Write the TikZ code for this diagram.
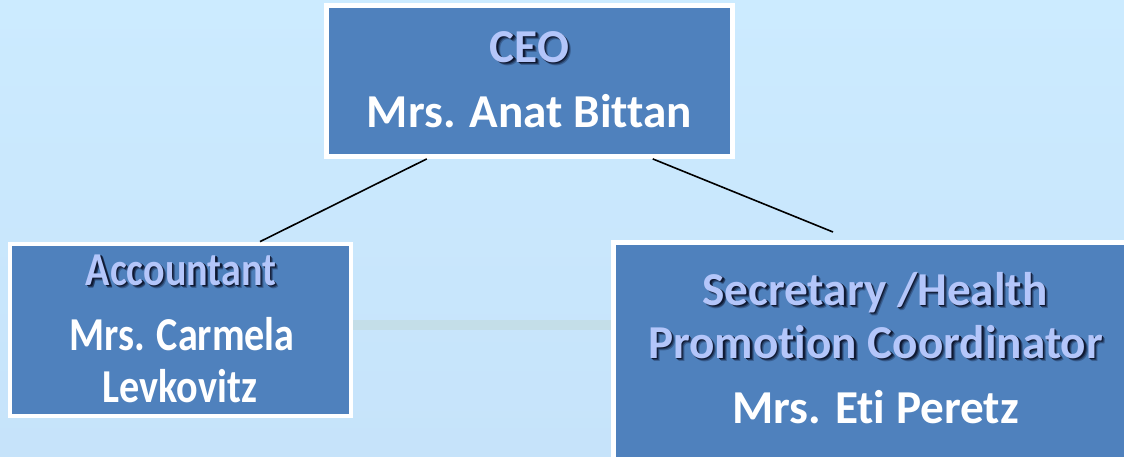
\documentclass[tikz,border=0pt]{standalone}
\usepackage{fontspec}
\setmainfont[Ligatures={NoCommon}]{Carlito}
\usetikzlibrary{calc}
\definecolor{boxblue}{RGB}{79,129,189}
\definecolor{bgtop}{RGB}{204,235,255}
\definecolor{bgbot}{RGB}{198,227,250}
\definecolor{titlec}{RGB}{180,198,250}
\definecolor{bandc}{RGB}{196,222,232}
\definecolor{shadowc}{RGB}{15,25,50}
\definecolor{shadowm}{RGB}{35,58,95}
\definecolor{shadowl}{RGB}{58,95,145}
\newcommand{\shd}[1]{\makebox[0pt][l]{\hspace{1.7pt}\raisebox{-1.7pt}{\color{shadowl}#1}}\makebox[0pt][l]{\hspace{1.3pt}\raisebox{-1.3pt}{\color{shadowm}#1}}\makebox[0pt][l]{\hspace{0.8pt}\raisebox{-0.8pt}{\color{shadowc}#1}}#1}
\newcommand{\narrow}[1]{\scalebox{0.85}[1]{#1}}
\tikzset{
  orgbox/.style={rectangle, draw=white, line width=2.4pt, fill=boxblue, inner sep=0pt},
  titletxt/.style={anchor=base, inner sep=0pt, text=titlec, font=\bfseries\fontsize{23.6}{23.6}\selectfont},
  nametxt/.style={anchor=base, inner sep=0pt, text=white, font=\bfseries\fontsize{23.6}{23.6}\selectfont},
  link/.style={draw=black, line width=0.8pt}
}
\begin{document}
\begin{tikzpicture}[x=0.5pt,y=-0.5pt]
\useasboundingbox (0,0) rectangle (1124,456);
\clip (0,0) rectangle (1124,456);
\shade[top color=bgtop, bottom color=bgbot] (0,0) rectangle (1124,456);
\fill[bandc] (353,320) rectangle (611,330);
% boxes
\node[orgbox, minimum width=203pt, minimum height=75.5pt] (ceo) at (529.5,81) {};
\node[orgbox, minimum width=170.5pt, minimum height=86pt] (acc) at (180.5,330) {};
\node[orgbox, minimum width=263.5pt, minimum height=117.5pt] (sec) at (877,360) {};
% connectors
\coordinate (ceoL) at ($(ceo.south west)!0.25!(ceo.south east)$);
\coordinate (ceoR) at ($(ceo.south west)!0.80!(ceo.south east)$);
\coordinate (accTop) at ($(acc.north west)!0.73!(acc.north east)$);
\coordinate (secEnd) at (833,232);
\draw[link] (ceoL) -- (accTop);
\draw[link] (ceoR) -- (secEnd);
% texts
\node[titletxt] (ceoT) at (529.5,62) {\shd{CEO}};
\node[nametxt] (ceoN) at (529.5,127) {Mrs. Anat Bittan};
\node[titletxt] (accT) at (181,285) {\narrow{\shd{Accountant}}};
\node[nametxt] (accN1) at (182,350) {\narrow{Mrs. Carmela}};
\node[nametxt] (accN2) at (180,402) {\narrow{Levkovitz}};
\node[titletxt] (secT1) at (875,305) {\shd{Secretary /Health}};
\node[titletxt] (secT2) at (875.5,358) {\shd{Promotion Coordinator}};
\node[nametxt] (secN) at (875.5,423) {Mrs. Eti Peretz};
\end{tikzpicture}
\end{document}
